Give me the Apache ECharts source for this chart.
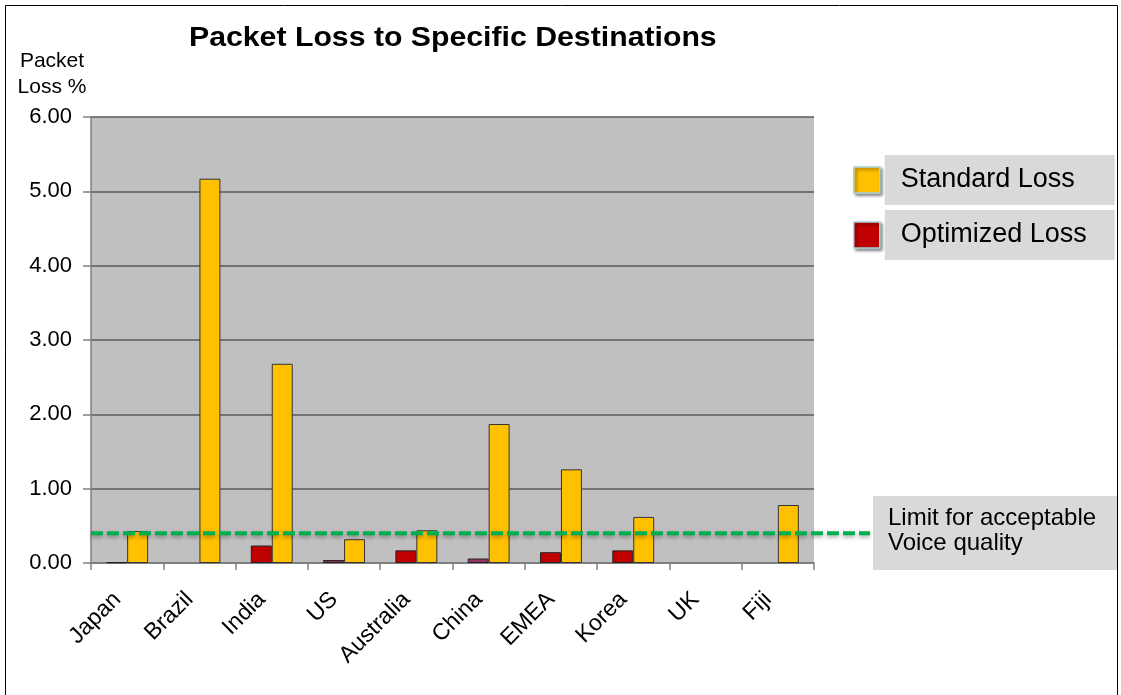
<!DOCTYPE html>
<html>
<head>
<meta charset="utf-8">
<script src="https://cdn.jsdelivr.net/npm/echarts@6/dist/echarts.min.js"></script>
<style>
  html, body { margin: 0; padding: 0; background: #fff; }
  #chart { width: 1121px; height: 695px; }
</style>
</head>
<body>
<div id="chart"></div>
<script>
const categories = ['Japan', 'Brazil', 'India', 'US', 'Australia', 'China', 'EMEA', 'Korea', 'UK', 'Fiji'];
const standardLoss = [0.43, 5.17, 2.68, 0.32, 0.44, 1.87, 1.26, 0.62, 0, 0.78];
const optimizedLoss = [0.01, 0, 0.235, 0.04, 0.17, 0.06, 0.145, 0.17, 0, 0];
// a couple of the small optimized bars are drawn in plum in the original
const plumBars = ['US', 'China'];
const limitValue = 0.4;
const yTicks = { min: 0, max: 6, interval: 1 };

const FONT = 'Liberation Sans, Arial, sans-serif';

// zero bars are not drawn at all in the original (no border line either)
const barData = (arr, extra) => arr.map((v, i) => {
  if (v === 0) return null;
  return extra ? extra(v, i) : v;
});

const chart = echarts.init(document.getElementById('chart'));

const option = {
  animation: false,
  backgroundColor: '#fff',
  legend: {
    orient: 'vertical',
    left: 853,
    top: 155,
    padding: 0,
    itemWidth: 26,
    itemHeight: 26,
    itemGap: 5,
    icon: 'rect',
    data: ['Standard Loss', 'Optimized Loss'],
    itemStyle: {
      borderColor: '#a8d3dd',
      borderWidth: 1.5,
      shadowBlur: 3,
      shadowColor: 'rgba(0,0,0,0.45)',
      shadowOffsetX: 2,
      shadowOffsetY: 2
    },
    textStyle: {
      fontFamily: FONT,
      fontSize: 27,
      color: '#000',
      backgroundColor: '#d9d9d9',
      width: 198,
      padding: [12, 16, 11, 16]
    }
  },
  grid: [
    { left: 91, right: 307, top: 117, bottom: 132, show: true, backgroundColor: '#c0c0c0', borderWidth: 0 },
    { left: 91, right: 251, top: 117, bottom: 132 }
  ],
  xAxis: [
    {
      type: 'category',
      gridIndex: 0,
      data: categories,
      axisLine: { lineStyle: { color: '#808080', width: 1.5 } },
      axisTick: { show: true, length: 7, lineStyle: { color: '#808080', width: 1.5 } },
      axisLabel: {
        rotate: 45,
        margin: 23,
        padding: [0, 14, 0, 0],
        fontFamily: FONT,
        fontSize: 23,
        color: '#000'
      }
    },
    { type: 'value', gridIndex: 1, min: 0, max: 1, show: false }
  ],
  yAxis: [
    {
      type: 'value',
      gridIndex: 0,
      min: yTicks.min,
      max: yTicks.max,
      interval: yTicks.interval,
      name: 'Packet\nLoss %',
      nameLocation: 'end',
      nameGap: 17,
      nameTextStyle: { fontFamily: FONT, fontSize: 21, color: '#000', align: 'center', lineHeight: 26, padding: [0, 78, 0, 0] },
      axisLine: { show: true, lineStyle: { color: '#808080', width: 1.5 } },
      axisTick: { show: true, length: 8, lineStyle: { color: '#808080', width: 1.5 } },
      splitLine: { lineStyle: { color: '#5a5a5a', width: 1.5 } },
      axisLabel: {
        margin: 19,
        fontFamily: FONT,
        fontSize: 22,
        color: '#000',
        formatter: v => v.toFixed(2)
      }
    },
    { type: 'value', gridIndex: 1, min: yTicks.min, max: yTicks.max, show: false }
  ],
  series: [
    {
      name: 'Optimized Loss',
      type: 'bar',
      xAxisIndex: 0,
      yAxisIndex: 0,
      barGap: '0%',
      barCategoryGap: '42%',
      itemStyle: { color: '#c00000', borderColor: '#222', borderWidth: 1 },
      data: barData(optimizedLoss, (v, i) => plumBars.includes(categories[i])
        ? { value: v, itemStyle: { color: '#993366' } }
        : v)
    },
    {
      name: 'Standard Loss',
      type: 'bar',
      xAxisIndex: 0,
      yAxisIndex: 0,
      barGap: '0%',
      barCategoryGap: '42%',
      itemStyle: { color: '#ffc000', borderColor: '#333', borderWidth: 1 },
      data: barData(standardLoss)
    },
    {
      name: 'limit',
      type: 'line',
      xAxisIndex: 1,
      yAxisIndex: 1,
      z: 5,
      symbol: 'none',
      silent: true,
      lineStyle: {
        color: '#00b050',
        width: 4,
        type: [12, 4],
        shadowBlur: 4,
        shadowColor: 'rgba(0,0,0,0.35)',
        shadowOffsetY: 2
      },
      data: [[0, limitValue], [1, limitValue]]
    }
  ],
  graphic: [
    {
      // outer frame of the slide
      type: 'rect',
      shape: { x: 5.5, y: 5.5, width: 1112, height: 720 },
      style: { fill: 'none', stroke: '#000', lineWidth: 1 },
      silent: true
    },
    {
      // title is slightly stretched horizontally in the original
      type: 'text',
      x: 189,
      y: 25,
      scaleX: 1.12,
      style: {
        text: 'Packet Loss to Specific Destinations',
        fontFamily: FONT,
        fontSize: 27,
        fontWeight: 'bold',
        fill: '#000',
        verticalAlign: 'top'
      }
    },
    {
      type: 'group',
      left: 873,
      top: 496,
      children: [
        {
          type: 'rect',
          shape: { width: 244, height: 74 },
          style: { fill: '#d9d9d9' }
        },
        {
          type: 'text',
          left: 15,
          top: 10,
          style: {
            text: 'Limit for acceptable\nVoice quality',
            fontFamily: FONT,
            fontSize: 24,
            lineHeight: 25,
            fill: '#000'
          }
        }
      ]
    }
  ]
};

chart.setOption(option);
window.addEventListener('resize', () => chart.resize());
</script>
</body>
</html>
